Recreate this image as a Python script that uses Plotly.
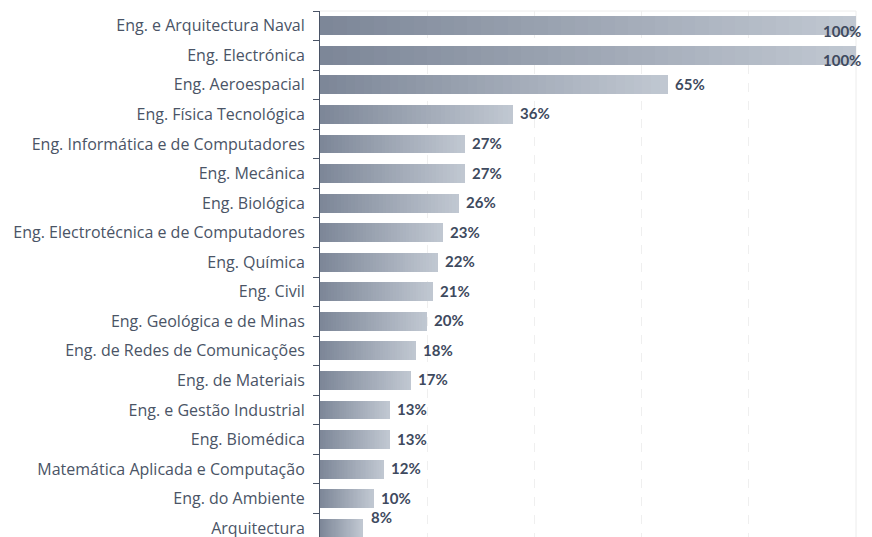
import plotly.graph_objects as go

categories = [
    "Eng. e Arquitectura Naval",
    "Eng. Electrónica",
    "Eng. Aeroespacial",
    "Eng. Física Tecnológica",
    "Eng. Informática e de Computadores",
    "Eng. Mecânica",
    "Eng. Biológica",
    "Eng. Electrotécnica e de Computadores",
    "Eng. Química",
    "Eng. Civil",
    "Eng. Geológica e de Minas",
    "Eng. de Redes de Comunicações",
    "Eng. de Materiais",
    "Eng. e Gestão Industrial",
    "Eng. Biomédica",
    "Matemática Aplicada e Computação",
    "Eng. do Ambiente",
    "Arquitectura",
]
values = [100, 100, 65, 36, 27, 27, 26, 23, 22, 21, 20, 18, 17, 13, 13, 12, 10, 8]
value_labels = [f"{v}%" for v in values]

DARK = (124, 134, 151)
LIGHT = (193, 200, 210)
N_SEG = 40
FONT = "'Open Sans', Lato, sans-serif"
LABEL_FONT = "Lato, 'Open Sans', sans-serif"
TEXT_COLOR = "#4a5466"
LABEL_COLOR = "#3e4a5e"

fig = go.Figure()
for i in range(N_SEG):
    t = (i + 0.5) / N_SEG
    c = tuple(round(DARK[k] + (LIGHT[k] - DARK[k]) * t) for k in range(3))
    fig.add_trace(go.Bar(
        x=[v / N_SEG for v in values],
        y=categories,
        orientation="h",
        marker=dict(color=f"rgb{c}", line=dict(width=0)),
        hoverinfo="skip",
        showlegend=False,
    ))

n = len(values)
for idx, (cat, v, lab) in enumerate(zip(categories, values, value_labels)):
    if v >= 100:
        kw = dict(xanchor="right", xshift=7, yshift=-5)
    elif idx == n - 1:
        kw = dict(xanchor="left", xshift=6, yshift=11)
    else:
        kw = dict(xanchor="left", xshift=5, yshift=1)
    fig.add_annotation(
        x=v, y=cat, text=lab, showarrow=False, yanchor="middle",
        font=dict(family=LABEL_FONT, size=15, color=LABEL_COLOR, weight="bold"),
        **kw,
    )

# light frame on top and right
fig.add_shape(type="line", xref="x domain", yref="y domain", x0=0, x1=1, y0=1, y1=1,
              line=dict(color="#ececec", width=1), layer="below")
fig.add_shape(type="line", xref="x domain", yref="y domain", x0=1, x1=1, y0=0, y1=1,
              line=dict(color="#ececec", width=1), layer="below")

fig.update_layout(
    width=864, height=545,
    margin=dict(l=312, r=16, t=3, b=10, pad=0),
    barmode="stack",
    bargap=0.36,
    plot_bgcolor="white",
    paper_bgcolor="white",
    font=dict(family=FONT, size=16, color=TEXT_COLOR),
)
fig.update_xaxes(
    range=[0, 100], dtick=20, showticklabels=False, zeroline=False,
    showgrid=True, gridcolor="#efefef", griddash="dash", gridwidth=1,
    fixedrange=True,
)
fig.update_yaxes(
    categoryorder="array", categoryarray=categories,
    range=[n - 0.5, -0.5],
    showline=True, linecolor="#4a5466", linewidth=1,
    ticks="outside", tickson="boundaries", ticklen=6, tickcolor="#4a5466",
    ticklabelstandoff=11,
    showgrid=False, fixedrange=True,
    tickfont=dict(family=FONT, size=16, color=TEXT_COLOR),
)

fig.write_html("out.html", config={"displayModeBar": False})
